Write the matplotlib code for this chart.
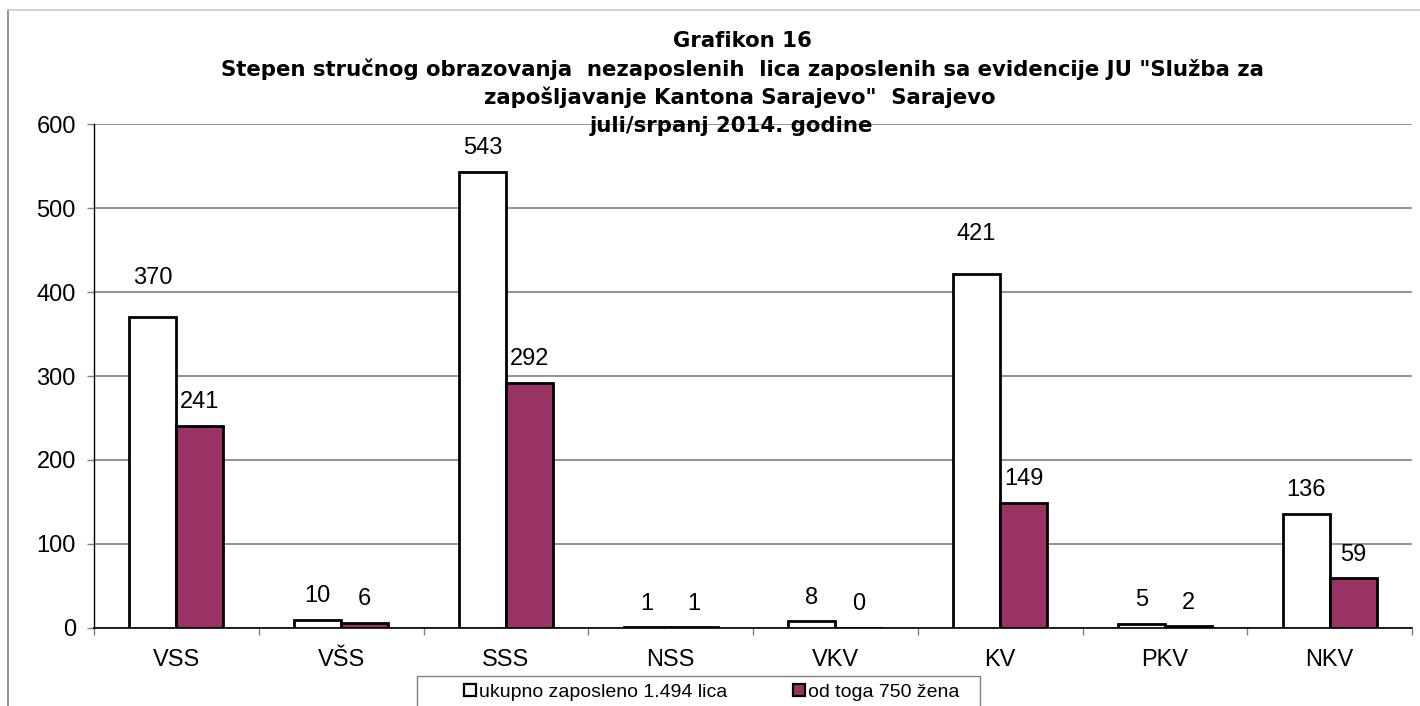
import matplotlib
matplotlib.use('Agg')
from matplotlib import pyplot as plt
from matplotlib.lines import Line2D
from matplotlib.patches import Rectangle
import numpy

plt.rcParams['font.family'] = ['Liberation Sans', 'DejaVu Sans']

# data
categories = ['VSS', 'VŠS', 'SSS', 'NSS', 'VKV', 'KV', 'PKV', 'NKV']
ukupno     = [370, 10, 543, 1, 8, 421, 5, 136]
zene       = [241, 6, 292, 1, 0, 149, 2, 59]
labels     = ['ukupno zaposleno 1.494 lica', 'od toga 750 žena']
title_lines = [
  'Grafikon 16',
  'Stepen stručnog obrazovanja  nezaposlenih  lica zaposlenih sa evidencije JU "Služba za',
  'zapošljavanje Kantona Sarajevo"  Sarajevo',
  'juli/srpanj 2014. godine',
]

# style
W, H   = 1420, 706
PLUM   = '#993366'
GRID   = '#808080'
barW   = 0.285
txtKW  = {'fontsize': 17, 'ha': 'center', 'va': 'bottom'}
# extra lift (points) of some data labels, as placed in the original
liftU  = [11, 0, 0, 0, 0, 12, 0, 0]

fig = plt.figure(figsize=(W/100, H/100), dpi=100)
ax  = fig.add_axes([94/W, (H-628)/H, (1412-94)/W, (628-124)/H])

xx = numpy.arange(len(categories))
ax.bar(xx - barW/2, ukupno, barW, color='white', edgecolor='black',
       linewidth=2, label=labels[0], zorder=3)
ax.bar(xx + barW/2, zene, barW, color=PLUM, edgecolor='black',
       linewidth=2, label=labels[1], zorder=3)

for i in range(len(categories)):
  ax.annotate(f"{ukupno[i]}", (xx[i] - barW/2, ukupno[i]),
              xytext=(0, 9 + liftU[i]), textcoords='offset points', **txtKW)
  ax.annotate(f"{zene[i]}", (xx[i] + barW/2, zene[i]),
              xytext=(0, 9), textcoords='offset points', **txtKW)

ax.set_xlim(-0.5, len(categories) - 0.5)
ax.set_ylim(0, 600)
ax.set_yticks(range(0, 601, 100))
ax.yaxis.grid(True, color=GRID, linewidth=1.2)
ax.set_axisbelow(True)

ax.set_xticks(xx)
ax.set_xticklabels(categories, fontsize=17)
ax.set_xticks(numpy.arange(-0.5, len(categories)), minor=True)
ax.tick_params(axis='x', which='major', length=0, pad=15)
ax.tick_params(axis='x', which='minor', length=5, width=1, color=GRID)
ax.tick_params(axis='y', labelsize=17, length=5, width=1, color=GRID, pad=8)

for s in ['top', 'right']:
  ax.spines[s].set_visible(False)
ax.spines['left'].set_linewidth(1)
ax.spines['bottom'].set_linewidth(1.2)

# title lines (the original title face is wide, DejaVu Sans Bold comes close)
title_x = [742, 742, 740, 731]
title_y = [41, 69, 97, 126]
for t, x, y in zip(title_lines, title_x, title_y):
  fig.text(x/W, 1 - y/H, t, ha='center', va='center',
           fontsize=15.3, fontweight='bold', family='DejaVu Sans')

# legend: entries plus a separate box, as in the original
handles = [
  Line2D([], [], marker='s', linestyle='none', markersize=8.5,
         markerfacecolor=c, markeredgecolor='black', markeredgewidth=1.6)
  for c in ['white', PLUM]
]
leg = fig.legend(handles, labels, ncol=2, loc='center left',
                 bbox_to_anchor=(464/W, 1 - 692/H), fontsize=14,
                 frameon=False, handlelength=0.6, handletextpad=0.15,
                 columnspacing=3.4, borderpad=0, borderaxespad=0)
fig.add_artist(Rectangle((417/W, -0.02), (980-417)/W, 0.02 + (H-676)/H,
                         transform=fig.transFigure, facecolor='none',
                         edgecolor=GRID, linewidth=1))

# outer chart border (left and top visible)
fig.add_artist(Line2D([8/W, 8/W], [0, 1 - 10/H], color=GRID, linewidth=1.2))
fig.add_artist(Line2D([8/W, 1], [1 - 10/H, 1 - 10/H], color='#c8c8c8', linewidth=1.2))

fig.savefig('out.png', dpi=100)
